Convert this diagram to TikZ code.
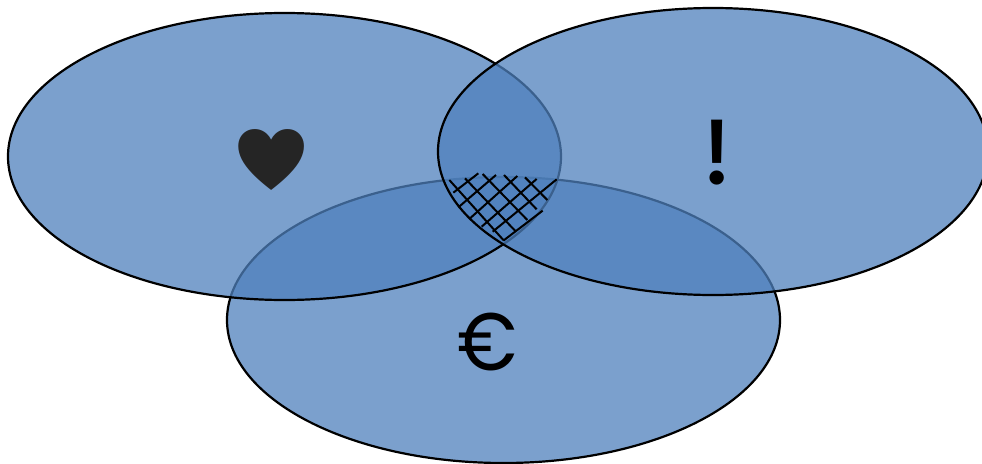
\documentclass[tikz,border=0pt]{standalone}
\usepackage{fontspec}
\setmainfont{Liberation Sans}
\newfontfamily\heartfont{Noto Emoji}
\newfontfamily\markfont{Noto Emoji}
\newfontfamily\eurofont{Poppins}
\definecolor{vennblue}{HTML}{4F81BD}
\definecolor{heartdark}{HTML}{252525}
\tikzset{
  vennset/.style={fill=vennblue,fill opacity=0.75,draw=black,line width=2.2pt},
  hatchline/.style={draw=black,line width=2pt},
  symbol/.style={inner sep=0pt,outer sep=0pt,text=black}
}
\begin{document}
\begin{tikzpicture}[x=1pt,y=-1pt]
\useasboundingbox (0,0) rectangle (982,463);
\path[fill=white] (0,0) rectangle (982,463);
\draw[vennset] (503.5,320) ellipse [x radius=276.5,y radius=143];
\draw[vennset] (284.5,156.5) ellipse [x radius=276.5,y radius=143.5];
\draw[vennset] (713,151.5) ellipse [x radius=275,y radius=143.5];
\begin{scope}[shift={(420,150)},x=0.3333pt,y=-0.3333pt]
\draw[hatchline] (100,128)--(175,70);
\draw[hatchline] (115,172)--(228,75);
\draw[hatchline] (150,205)--(292,78);
\draw[hatchline] (185,230)--(350,87);
\draw[hatchline] (218,245)--(410,88);
\draw[hatchline] (250,272)--(368,182);
\draw[hatchline] (88,90)--(250,270);
\draw[hatchline] (135,85)--(288,245);
\draw[hatchline] (188,72)--(322,210);
\draw[hatchline] (252,75)--(350,178);
\draw[hatchline] (315,82)--(382,150);
\end{scope}
\node[symbol,text=heartdark,font=\heartfont\fontsize{60}{60}\selectfont] (heart) at (272,160) {♥};
\node[symbol,font=\markfont\fontsize{64}{64}\selectfont] (bang) at (717,152.5) {❗};
\node[symbol,font=\eurofont\fontsize{74}{74}\selectfont,xscale=1,yscale=1.1] (euro) at (488,342) {€};
\end{tikzpicture}
\end{document}
